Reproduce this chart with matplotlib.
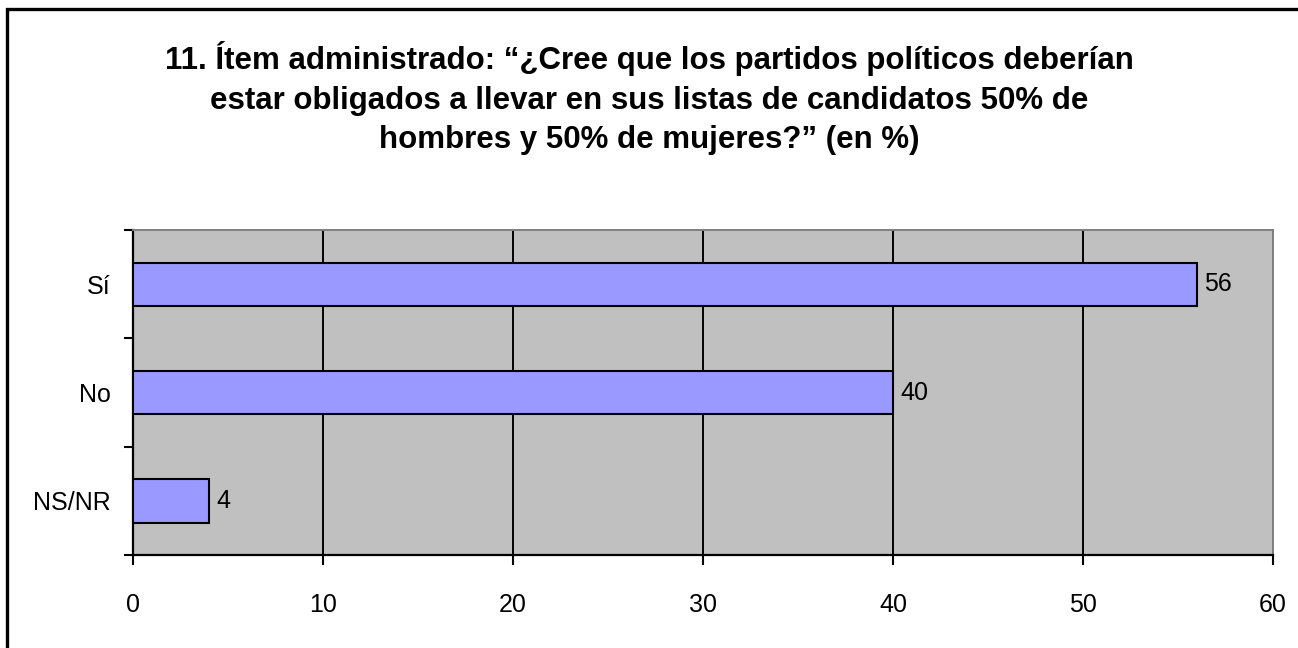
import matplotlib
matplotlib.use("Agg")
import matplotlib.pyplot as plt
from matplotlib.patches import Rectangle

# datos del grafico
categorias = ["Sí", "No", "NS/NR"]
valores = [56, 40, 4]
ticks_x = [0, 10, 20, 30, 40, 50, 60]
titulo = ("11. Ítem administrado: \u201c¿Cree que los partidos políticos deberían\n"
          "estar obligados a llevar en sus listas de candidatos 50% de\n"
          "hombres y 50% de mujeres?\u201d (en %)")

fuente = ["Liberation Sans", "DejaVu Sans"]

fig = plt.figure(figsize=(12.98, 6.48), dpi=100)
fig.set_facecolor("white")

# marco del grafico (solo se ven los bordes superior e izquierdo)
fig.patches.append(Rectangle((7 / 1298, -0.05), 1.2, 1 - 9 / 648 + 0.05,
                             transform=fig.transFigure, fill=False,
                             edgecolor="black", linewidth=2.4))

fig.text(0.5, 1 - 98 / 648, titulo, ha="center", va="center",
         fontsize=22.5, fontweight="bold", linespacing=1.42, family=fuente)

ax = fig.add_axes([133 / 1298, 1 - 555 / 648, 1140 / 1298, 325 / 648])
ax.set_facecolor("#C0C0C0")

pos = list(range(len(categorias)))[::-1]
barras = ax.barh(pos, valores, height=0.4, color="#9999FF",
                 edgecolor="black", linewidth=1.5, zorder=3)
ax.bar_label(barras, labels=[str(v) for v in valores], padding=5,
             fontsize=18, family=fuente)

ax.set_xlim(0, 60)
ax.set_ylim(-0.5, 2.5)
ax.set_xticks(ticks_x)
ax.set_xticklabels([str(t) for t in ticks_x], fontsize=18, family=fuente)
ax.set_yticks(pos)
ax.set_yticklabels(categorias, fontsize=18, family=fuente)
ax.set_yticks([-0.5, 0.5, 1.5, 2.5], minor=True)

ax.tick_params(axis="y", which="major", length=0, pad=16)
ax.tick_params(axis="y", which="minor", length=6.5, width=1.5, direction="out")
ax.tick_params(axis="x", length=7, width=1.5, direction="out", pad=20)

ax.grid(axis="x", color="black", linewidth=1.4, zorder=1)
ax.set_axisbelow(True)

for lado in ["left", "bottom"]:
    ax.spines[lado].set_color("black")
    ax.spines[lado].set_linewidth(1.6)
for lado in ["top", "right"]:
    ax.spines[lado].set_color("#808080")
    ax.spines[lado].set_linewidth(1.4)

fig.savefig("out.png", dpi=100)
